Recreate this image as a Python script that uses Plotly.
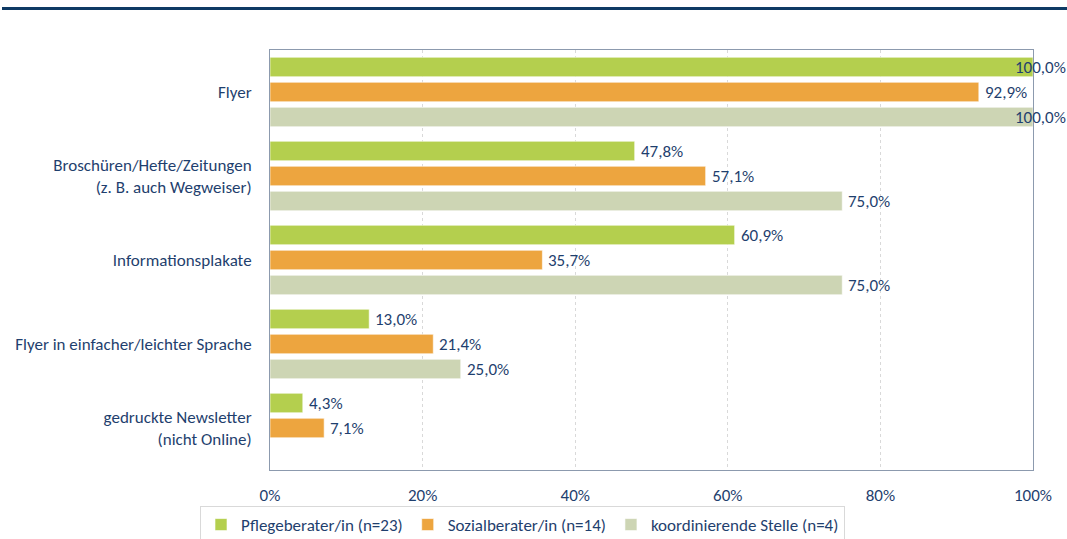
import plotly.graph_objects as go

categories = [
    "Flyer",
    "Broschüren/Hefte/Zeitungen<br>(z. B. auch Wegweiser)",
    "Informationsplakate",
    "Flyer in einfacher/leichter Sprache",
    "gedruckte Newsletter<br>(nicht Online)",
]
series_names = [
    "Pflegeberater/in (n=23)",
    "Sozialberater/in (n=14)",
    "koordinierende Stelle (n=4)",
]
pflege = [100.0, 47.8, 60.9, 13.0, 4.3]
sozial = [92.9, 57.1, 35.7, 21.4, 7.1]
koord = [100.0, 75.0, 75.0, 25.0, None]
x_ticks = [0, 20, 40, 60, 80, 100]
x_tick_labels = ["0%", "20%", "40%", "60%", "80%", "100%"]

colors = ["#B4CF4E", "#EDA53F", "#CDD5B4"]
text_color = "#1F3F6E"
font_family = "Carlito, Lato, 'Open Sans', sans-serif"
fs = 17

fig = go.Figure()
all_series = [pflege, sozial, koord]
for name, vals, col in zip(series_names, all_series, colors):
    fig.add_trace(go.Bar(
        y=categories, x=vals, name=name, orientation="h",
        marker=dict(color=col, line=dict(color="rgba(255,255,255,0.6)", width=1)),
        cliponaxis=False,
    ))

# value labels next to bar ends (pulled back inside when the bar reaches the axis end)
n_series = len(all_series)
for si, vals in enumerate(all_series):
    for ci, v in enumerate(vals):
        if v is None:
            continue
        label = f"{v:.1f}%".replace(".", ",")
        offset = (si - (n_series - 1) / 2) * 25  # pixel offset within the group
        shift = -20 if v >= 100 else 4
        fig.add_annotation(x=v, y=ci, text=label, showarrow=False,
                           xanchor="left", xshift=shift, yshift=-offset,
                           font=dict(size=fs, color=text_color, family=font_family))

# header rule across the top of the page
fig.add_shape(type="line", xref="paper", yref="paper",
              x0=-268 / 763, x1=1 + 34 / 763, y0=1 + 41.5 / 420, y1=1 + 41.5 / 420,
              line=dict(color="#0E3A64", width=3))

fig.update_layout(
    width=1067, height=539,
    margin=dict(l=270, r=34, t=50, b=69, autoexpand=False),
    paper_bgcolor="white", plot_bgcolor="white",
    barmode="group", bargap=0.107, bargroupgap=0.22,
    font=dict(family=font_family, size=fs, color=text_color),
    showlegend=True,
    legend=dict(
        orientation="h", xref="container", yref="container",
        x=200 / 1067, xanchor="left",
        y=1 - 506 / 539, yanchor="top",
        bordercolor="#D9D9D9", borderwidth=1,
        font=dict(size=fs, color=text_color, family=font_family),
    ),
    xaxis=dict(
        range=[0, 100], tickvals=x_ticks, ticktext=x_tick_labels,
        showgrid=True, gridcolor="#D9D9D9", griddash="dot", gridwidth=1,
        showline=True, linecolor="#8C9AAE", linewidth=1, mirror=True,
        zeroline=False, ticks="", ticklabelstandoff=10,
        tickfont=dict(size=fs, color=text_color),
    ),
    yaxis=dict(
        autorange="reversed", showline=True, linecolor="#8C9AAE", linewidth=1,
        mirror=True, ticks="", ticklabelstandoff=14,
        tickfont=dict(size=fs, color=text_color),
    ),
)

fig.write_html("out.html")
